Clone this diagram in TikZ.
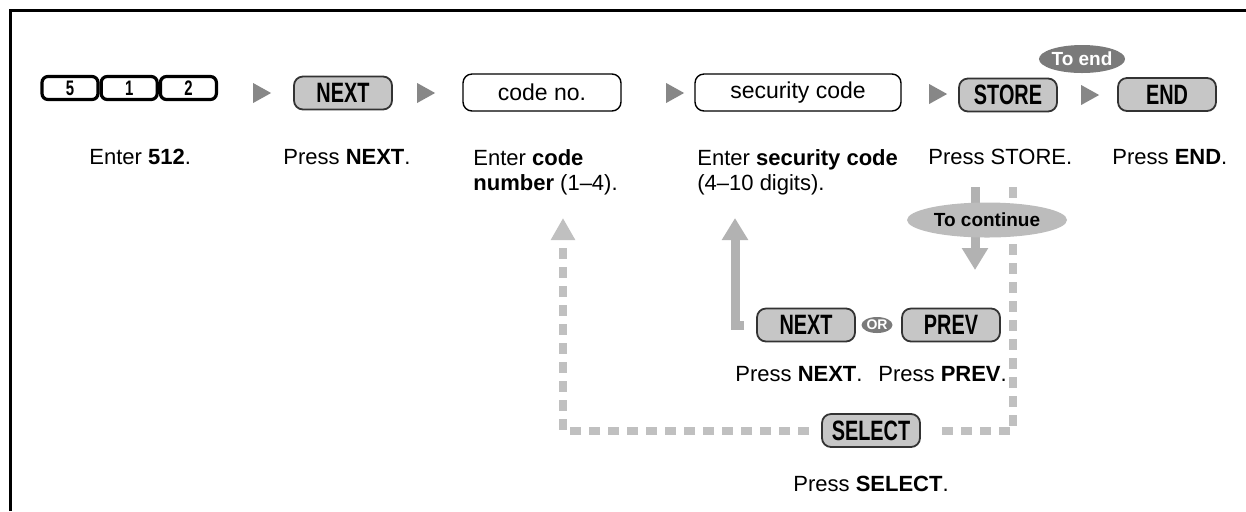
\documentclass[tikz,border=0pt]{standalone}
\usepackage{fontspec}
\setmainfont{Liberation Sans}
\newfontfamily\keyfont[FakeStretch=0.71]{Liberation Sans}
\usepackage{xcolor}
\usepackage{tikz}
\usetikzlibrary{shapes.geometric, arrows.meta, positioning}
\definecolor{keygray}{RGB}{198,198,198}
\definecolor{trigray}{RGB}{135,135,135}
\definecolor{flowgray}{RGB}{178,178,178}
\definecolor{dashgray}{RGB}{192,192,192}
\definecolor{tagdark}{RGB}{122,122,122}
\definecolor{taglight}{RGB}{188,188,188}
\tikzset{
  digitkey/.style={draw=black, line width=1.6pt, fill=white, rounded corners=3pt, minimum width=28pt, minimum height=11.5pt, inner sep=0pt, font=\keyfont\bfseries\fontsize{10.5}{11}\selectfont},
  funckey/.style={draw=black!80, line width=0.9pt, fill=keygray, rounded corners=4.5pt, minimum width=49pt, minimum height=16.5pt, inner sep=0pt, font=\keyfont\bfseries\fontsize{14}{15}\selectfont},
  entrybox/.style={draw=black, line width=0.7pt, fill=white, rounded corners=4.5pt, minimum height=18.5pt, inner sep=0pt, font=\fontsize{11.5}{12}\selectfont},
  flowtri/.style={isosceles triangle, isosceles triangle stretches, fill=trigray, minimum width=10pt, minimum height=9pt, inner sep=0pt},
  steptext/.style={anchor=north west, inner sep=0pt, align=left, font=\fontsize{11}{12.5}\selectfont},
  notetag/.style={ellipse, inner sep=0pt, font=\bfseries\fontsize{9.5}{10}\selectfont},
  flowarrow/.style={draw=flowgray, line width=4.5pt, -{Triangle[width=12.5pt,length=11pt]}},
  loopline/.style={draw=dashgray, line width=4pt, dash pattern=on 5.5pt off 4pt}
}
\begin{document}
\begin{tikzpicture}[x=0.5pt, y=-0.5pt]
  \useasboundingbox (0,0) rectangle (1246,511);
  \draw[line width=1.5pt] (10,511) -- (10,10) -- (1246,10);

  \node[digitkey] (key5) at (70,88) {5};
  \node[digitkey, right=0pt of key5] (key1) {1};
  \node[digitkey, right=0pt of key1] (key2) {2};
  \node[flowtri] (tri1) at (259,93) {};
  \node[funckey] (nextkey) at (343,93) {NEXT};
  \node[flowtri] (tri2) at (423,93) {};
  \node[entrybox, minimum width=79pt] (codebox) at (542,92.5) {code no.};
  \node[flowtri] (tri3) at (672,93) {};
  \node[entrybox, minimum width=103pt] (secbox) at (798,92.5) {security code};
  \node[flowtri] (tri4) at (935,94) {};
  \node[funckey] (storekey) at (1008,95) {STORE};
  \node[flowtri] (tri5) at (1087,95) {};
  \node[funckey] (endkey) at (1167,94.5) {END};
  \node[notetag, fill=tagdark, text=white, minimum width=42.5pt, minimum height=14pt] (toend) at (1082,59) {To end};

  \node[steptext] (t512) at (89,149) {Enter \textbf{512}.};
  \node[steptext] (tnext) at (283,149) {Press \textbf{NEXT}.};
  \node[steptext] (tcode) at (473,149) {Enter \textbf{code}\\\textbf{number} (1--4).};
  \node[steptext] (tsec) at (697,149) {Enter \textbf{security code}\\(4--10 digits).};
  \node[steptext] (tstore) at (928,149) {Press STORE.};
  \node[steptext] (tend) at (1112,149) {Press \textbf{END}.};

  \node[funckey] (nextkey2) at (806,325) {NEXT};
  \node[notetag, fill=tagdark, text=white, minimum width=15.5pt, minimum height=8pt, font=\bfseries\fontsize{7}{7}\selectfont] (orsign) at (877,325) {OR};
  \node[funckey] (prevkey) at (951,325) {PREV};
  \node[steptext] (tnext2) at (735,366) {Press \textbf{NEXT}.};
  \node[steptext] (tprev) at (878,366) {Press \textbf{PREV}.};
  \node[funckey] (selkey) at (871,430.5) {SELECT};
  \node[steptext] (tsel) at (793,476) {Press \textbf{SELECT}.};

  \coordinate (secup) at (735,218);
  \draw[flowarrow] ([xshift=-6pt]nextkey2.west) -| (secup);
  \coordinate (contin) at (975,187);
  \coordinate (contout) at (975,270);
  \draw[flowarrow] (contin) -- (contout);
  \coordinate (loopin) at (1013,187);
  \coordinate (codeup) at (563,218);
  \draw[loopline] (loopin) |- ([xshift=8pt]selkey.east);
  \draw[loopline, -{Triangle[width=11.5pt,length=11pt]}] ([xshift=-6pt]selkey.west) -| (codeup);
  \node[notetag, fill=taglight, minimum width=80pt, minimum height=17.5pt] (tocont) at (987,220) {To continue};
\end{tikzpicture}
\end{document}
